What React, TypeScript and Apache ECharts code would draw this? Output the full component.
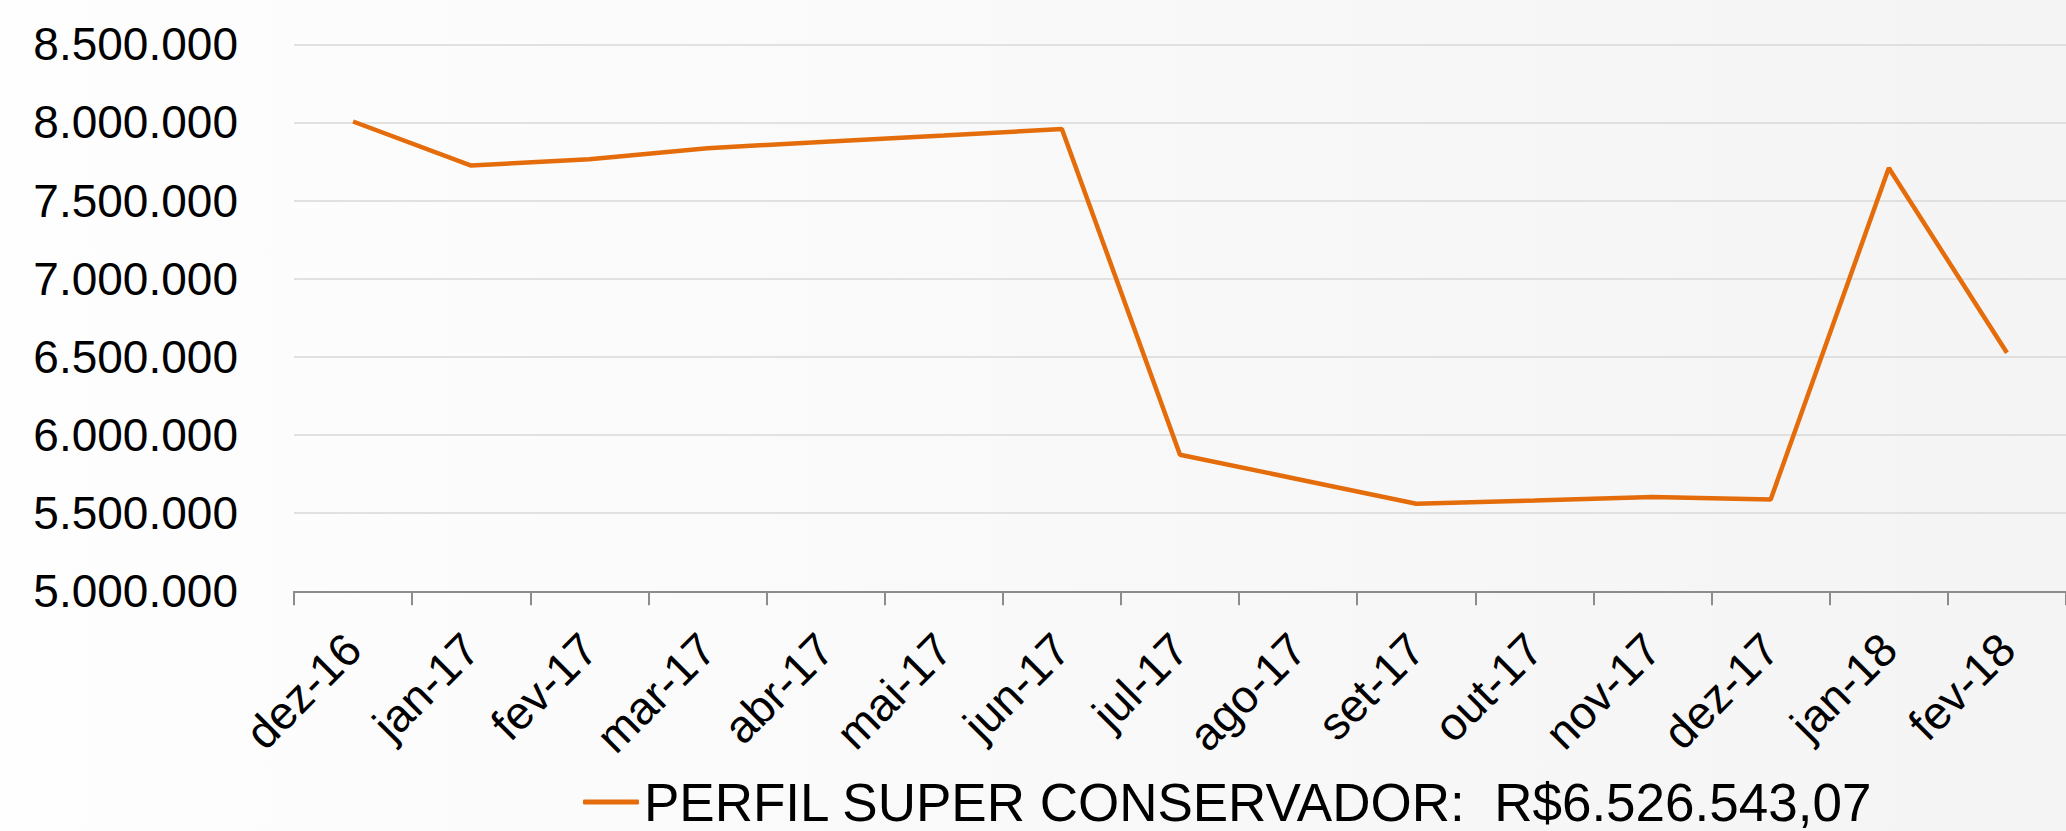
import React, { useEffect, useRef } from "react";
import * as echarts from "echarts";

const categories = [
  "dez-16", "jan-17", "fev-17", "mar-17", "abr-17", "mai-17", "jun-17", "jul-17",
  "ago-17", "set-17", "out-17", "nov-17", "dez-17", "jan-18", "fev-18",
];
const seriesName = "PERFIL SUPER CONSERVADOR:  R$6.526.543,07";
const values = [
  8006000, 7724000, 7765000, 7835000, 7877000, 7917000, 7958000, 5874000,
  5717000, 5560000, 5581000, 5603000, 5588000, 7708000, 6526543.07,
];
const yMin = 5000000;
const yMax = 8500000;
const yStep = 500000;

const FONT = "'Liberation Sans', Arial, Helvetica, sans-serif";

function fmt(v: number): string {
  return String(Math.round(v)).replace(/\B(?=(\d{3})+(?!\d))/g, ".");
}

export default function App() {
  const ref = useRef<HTMLDivElement>(null);
  useEffect(() => {
    if (!ref.current) return;
    const chart = echarts.init(ref.current, undefined, { renderer: "svg" });
    chart.setOption({
      animation: false,
      backgroundColor: {
        type: "linear", x: 0, y: 0, x2: 1, y2: 0,
        colorStops: [
          { offset: 0, color: "#fefefe" },
          { offset: 1, color: "#f4f4f4" },
        ],
      },
      grid: { left: 294, top: 44.3, width: 1779, height: 547, containLabel: false },
      legend: {
        left: 578,
        top: 770,
        icon: "roundRect",
        itemWidth: 56,
        itemHeight: 5,
        textStyle: { fontFamily: FONT, fontSize: 53, color: "#000", lineHeight: 54 },
        data: [seriesName],
      },
      xAxis: {
        type: "category",
        data: categories,
        boundaryGap: true,
        axisLine: { lineStyle: { color: "#8c8c8c", width: 2 } },
        axisTick: { show: true, length: 14, lineStyle: { color: "#8c8c8c", width: 2 } },
        axisLabel: {
          interval: 0,
          rotate: 45,
          margin: 50,
          fontFamily: FONT,
          fontSize: 46,
          color: "#000",
        },
        splitLine: { show: false },
      },
      yAxis: {
        type: "value",
        min: yMin,
        max: yMax,
        interval: yStep,
        axisLine: { show: false },
        axisTick: { show: false },
        axisLabel: {
          margin: 56,
          fontFamily: FONT,
          fontSize: 46,
          color: "#000",
          formatter: (v: number) => fmt(v),
        },
        splitLine: { lineStyle: { color: "#d9d9d9", width: 1.5 } },
      },
      series: [
        {
          name: seriesName,
          type: "line",
          data: values,
          symbol: "none",
          lineStyle: { color: "#e46c0a", width: 4.5 },
          itemStyle: { color: "#e46c0a" },
        },
      ],
    });
    return () => chart.dispose();
  }, []);
  return (
    <div
      ref={ref}
      style={{ position: "absolute", left: 0, top: 0, width: 2066, height: 831 }}
    />
  );
}
